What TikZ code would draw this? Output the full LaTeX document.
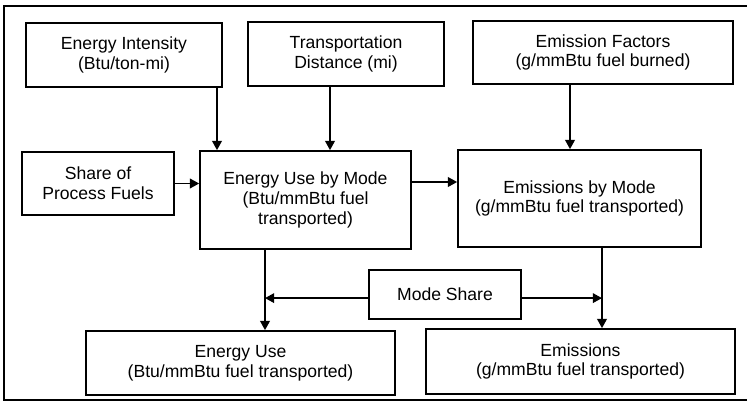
\documentclass[tikz,border=0pt]{standalone}
\usepackage{fontspec}
\setmainfont{Liberation Sans}
\usepackage{tikz}
\usetikzlibrary{arrows.meta,positioning,calc}
\tikzset{
  box/.style={draw,line width=1.2pt,align=center,font=\fontsize{12.5}{14}\selectfont,inner sep=2pt},
  arr/.style={-{Triangle[length=2.3mm,width=2.4mm]},line width=1.2pt},
}
\begin{document}
\begin{tikzpicture}
\useasboundingbox (0,0) rectangle (18.675,-10.25);
\draw[line width=1pt] (18.675,-0.15) -- (0.1,-0.15) -- (0.1,-10.0) -- (18.675,-10.0);
% inputs
\node[box,minimum width=4.9cm,minimum height=1.6cm] (ei) at (3.1,-1.375) {Energy Intensity\\(Btu/ton-mi)};
\node[box,minimum width=4.9cm,minimum height=1.6cm] (td) at (8.65,-1.35) {Transportation\\Distance (mi)};
\node[box,minimum width=6.5cm,minimum height=1.575cm] (ef) at (15.075,-1.3125) {Emission Factors\\(g/mmBtu fuel burned)};
\node[box,minimum width=3.8cm,minimum height=1.575cm] (sp) at (2.45,-4.5875) {Share of\\Process Fuels};
% by mode
\node[box,minimum width=5.275cm,minimum height=2.45cm] (eum) at (7.6375,-5.0) {Energy Use by Mode\\(Btu/mmBtu fuel\\transported)};
\node[box,minimum width=6.075cm,minimum height=2.425cm] (emm) at (14.4875,-4.9625) {Emissions by Mode\\(g/mmBtu fuel transported)};
\node[box,minimum width=3.8cm,minimum height=1.225cm] (ms) at (11.125,-7.3625) {Mode Share};
% outputs
\node[box,minimum width=7.725cm,minimum height=1.6cm] (eu) at (6.0125,-9.075) {Energy Use\\(Btu/mmBtu fuel transported)};
\node[box,minimum width=7.725cm,minimum height=1.625cm] (em) at (14.5125,-9.0375) {Emissions\\(g/mmBtu fuel transported)};
\coordinate (eux) at ([xshift=-1.0125cm]eum.south);
\coordinate (emx) at ([xshift=0.5625cm]emm.south);
\draw[arr] ([xshift=2.325cm]ei.south) -- ([xshift=2.325cm]ei.south |- eum.north);
\draw[arr] ([xshift=-0.4cm]td.south) -- ([xshift=-0.4cm]td.south |- eum.north);
\draw[arr] ([xshift=-0.825cm]ef.south) -- ([xshift=-0.825cm]ef.south |- emm.north);
\draw[arr] (sp.east) -- (sp.east -| eum.west);
\draw[arr] ([yshift=0.45cm]eum.east) -- ([yshift=0.45cm]eum.east -| emm.west);
\draw[arr] (eux) -- (eux |- eu.north);
\draw[arr] (emx) -- (emx |- em.north);
\draw[arr] ([yshift=-0.09cm]ms.west) -- ([yshift=-0.09cm]ms.west -| eux);
\draw[arr] ([yshift=-0.09cm]ms.east) -- ([yshift=-0.09cm]ms.east -| emx);
\end{tikzpicture}
\end{document}
